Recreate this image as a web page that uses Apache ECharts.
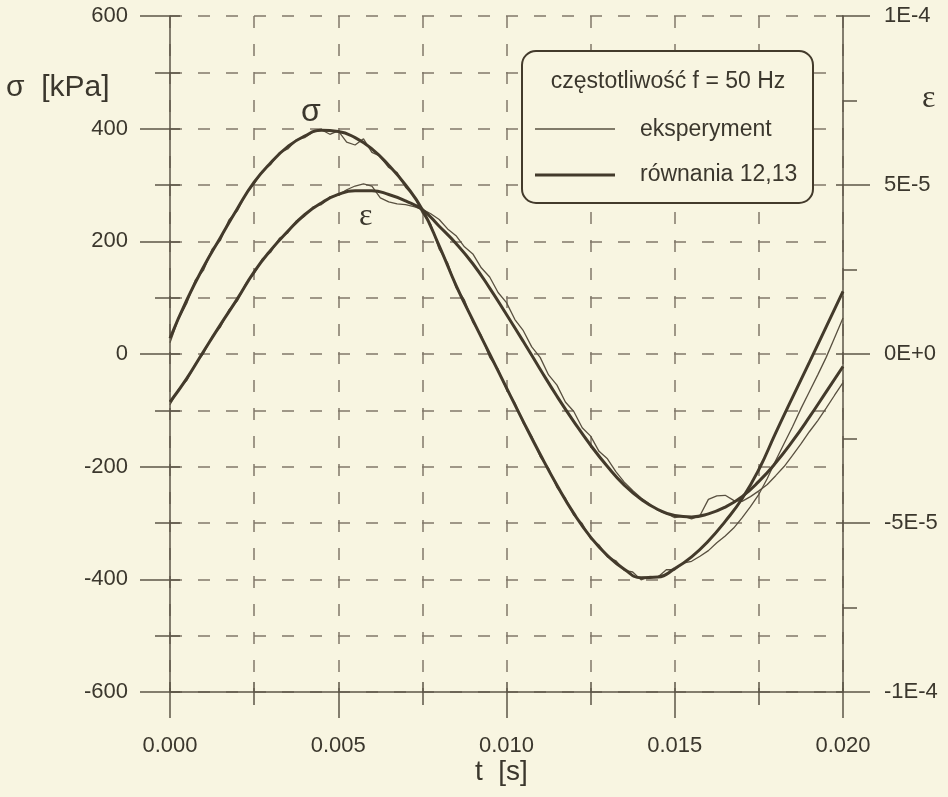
<!DOCTYPE html>
<html>
<head>
<meta charset="utf-8">
<script src="https://cdn.jsdelivr.net/npm/echarts/dist/echarts.min.js"></script>
<style>
  html, body { margin: 0; padding: 0; background: #f8f5e1; }
  #chart { width: 948px; height: 797px; }
</style>
</head>
<body>
<div id="chart"></div>
<script>
// ---------- data ----------
// model curves ("równania 12,13"), sampled every 0.0005 s
const tModel = [0, 0.0005, 0.001, 0.0015, 0.002, 0.0025, 0.003, 0.0035, 0.004, 0.0045,
  0.005, 0.0055, 0.006, 0.0065, 0.007, 0.0075, 0.008, 0.0085, 0.009, 0.0095,
  0.010, 0.0105, 0.011, 0.0115, 0.012, 0.0125, 0.013, 0.0135, 0.014, 0.0145,
  0.015, 0.0155, 0.016, 0.0165, 0.017, 0.0175, 0.018, 0.0185, 0.019, 0.0195, 0.020];
// stress sigma [kPa]
const sigmaModel = [28, 96, 155, 207, 258, 305, 340, 368, 387, 397,
  395, 384, 364, 335, 300, 256, 192, 122, 60, 0,
  -60, -120, -178, -233, -283, -325, -358, -382, -397, -396,
  -381, -360, -332, -297, -257, -205, -140, -77, -15, 48, 111];
// strain epsilon, in units of 1E-5
const epsModel = [-1.42, -0.72, 0.08, 0.87, 1.63, 2.43, 3.08, 3.63, 4.12, 4.47,
  4.72, 4.83, 4.83, 4.72, 4.53, 4.27, 3.78, 3.27, 2.67, 1.95,
  1.17, 0.37, -0.45, -1.25, -2.00, -2.70, -3.33, -3.88, -4.30, -4.60,
  -4.78, -4.82, -4.73, -4.53, -4.22, -3.77, -3.22, -2.58, -1.87, -1.12, -0.37];

// experiment ("eksperyment"), sampled every 0.00025 s
const tExp = [0, 0.00025, 0.0005, 0.00075, 0.001, 0.00125, 0.0015, 0.00175, 0.002, 0.00225,
  0.0025, 0.00275, 0.003, 0.00325, 0.0035, 0.00375, 0.004, 0.00425, 0.0045, 0.00475,
  0.005, 0.00525, 0.0055, 0.00575, 0.006, 0.00625, 0.0065, 0.00675, 0.007, 0.00725,
  0.0075, 0.00775, 0.008, 0.00825, 0.0085, 0.00875, 0.009, 0.00925, 0.0095, 0.00975,
  0.010, 0.01025, 0.0105, 0.01075, 0.011, 0.01125, 0.0115, 0.01175, 0.012, 0.01225,
  0.0125, 0.01275, 0.013, 0.01325, 0.0135, 0.01375, 0.014, 0.01425, 0.0145, 0.01475,
  0.015, 0.01525, 0.0155, 0.01575, 0.016, 0.01625, 0.0165, 0.01675, 0.017, 0.01725,
  0.0175, 0.01775, 0.018, 0.01825, 0.0185, 0.01875, 0.019, 0.01925, 0.0195, 0.01975, 0.020];
const sigmaExp = [20, 62, 90, 131, 149, 186, 202, 238, 254, 284,
  302, 325, 337, 357, 364, 380, 384, 394, 398, 390,
  396, 376, 371, 382, 358, 351, 331, 322, 296, 281,
  250, 230, 186, 162, 118, 96, 56, 33, -6, -27,
  -63, -87, -123, -146, -182, -203, -237, -256, -286, -301,
  -328, -339, -360, -367, -384, -387, -401, -395, -396, -383,
  -383, -371, -368, -359, -349, -335, -323, -309, -291, -271,
  -249, -221, -189, -159, -129, -97, -67, -37, -6, 29, 64];
const epsExp = [-1.50, -1.05, -0.78, -0.30, 0.02, 0.52, 0.80, 1.30, 1.57, 2.08,
  2.38, 2.82, 3.02, 3.42, 3.58, 3.93, 4.08, 4.35, 4.42, 4.65,
  4.70, 4.86, 4.97, 5.03, 4.97, 4.62, 4.50, 4.44, 4.42, 4.36,
  4.28, 4.15, 3.98, 3.70, 3.50, 3.17, 2.96, 2.55, 2.28, 1.82,
  1.52, 1.02, 0.69, 0.21, -0.10, -0.62, -0.92, -1.42, -1.70, -2.18,
  -2.43, -2.88, -3.10, -3.48, -3.79, -4.04, -4.26, -4.44, -4.63, -4.72,
  -4.84, -4.80, -4.88, -4.78, -4.30, -4.20, -4.18, -4.33, -4.36, -4.22,
  -4.05, -3.86, -3.60, -3.33, -3.00, -2.66, -2.30, -1.97, -1.60, -1.22, -0.85];
const EPS_UNIT = 1e-5;

// tick labels
const xTickLabels = ['0.000', '0.005', '0.010', '0.015', '0.020'];
const sigmaTickLabels = ['-600', '-400', '-200', '0', '200', '400', '600'];
const epsTickLabels = ['-1E-4', '-5E-5', '0E+0', '5E-5', '1E-4'];

// texts
const legendTitle = 'częstotliwość f = 50 Hz';
const legendExp = 'eksperyment';
const legendModel = 'równania 12,13';

// ---------- styles ----------
const BG = '#f8f5e1';
const INK = '#433a2b';
const THIN = '#595040';
const AX = '#5c5547';
const GRIDC = '#81786a';
const TXT = '#3b372d';
const FONT = '"Liberation Sans", Arial, sans-serif';
const SERIF = '"Liberation Serif", "DejaVu Serif", serif';

const dash = [12, 16];

const chart = echarts.init(document.getElementById('chart'), null, { renderer: 'canvas' });

const pair = (ts, vs, k) => ts.map((t, i) => [t, vs[i] * (k || 1)]);

const option = {
  backgroundColor: BG,
  animation: false,
  grid: { left: 170, right: 105, top: 16, bottom: 105, containLabel: false },
  xAxis: [
    {
      type: 'value', position: 'bottom', min: 0, max: 0.02, interval: 0.005,
      axisLine: { show: true, onZero: false, lineStyle: { color: AX, width: 1.5 } },
      axisTick: { show: true, length: 26, lineStyle: { color: AX, width: 1.5 } },
      minorTick: { show: true, splitNumber: 2, length: 13, lineStyle: { color: AX, width: 1.5 } },
      axisLabel: { margin: 43, fontSize: 22, color: TXT, fontFamily: FONT,
        formatter: (v, i) => xTickLabels[i] },
      splitLine: { show: true, lineStyle: { type: dash, color: GRIDC, width: 1.5 } },
      minorSplitLine: { show: true, lineStyle: { type: dash, color: GRIDC, width: 1.5 } }
    },
    {
      type: 'value', position: 'bottom', min: 0, max: 0.02, interval: 0.0025,
      axisLine: { show: false, onZero: false },
      axisTick: { show: true, inside: true, length: 10, lineStyle: { color: AX, width: 1.5 } },
      axisLabel: { show: false },
      splitLine: { show: false }
    }
  ],
  yAxis: [
    {
      type: 'value', position: 'left', min: -600, max: 600, interval: 200,
      axisLine: { show: true, onZero: false, lineStyle: { color: AX, width: 1.5 } },
      axisTick: { show: true, length: 30, lineStyle: { color: AX, width: 1.5 } },
      minorTick: { show: true, splitNumber: 2, length: 15, lineStyle: { color: AX, width: 1.5 } },
      axisLabel: { margin: 42, fontSize: 22, color: TXT, fontFamily: FONT,
        formatter: (v, i) => sigmaTickLabels[i] },
      splitLine: { show: true, lineStyle: { type: dash, color: GRIDC, width: 1.5 } },
      minorSplitLine: { show: true, lineStyle: { type: dash, color: GRIDC, width: 1.5 } }
    },
    {
      type: 'value', position: 'right', min: -1e-4, max: 1e-4, interval: 5e-5,
      axisLine: { show: true, onZero: false, lineStyle: { color: AX, width: 1.5 } },
      axisTick: { show: true, length: 27, lineStyle: { color: AX, width: 1.5 } },
      minorTick: { show: true, splitNumber: 2, length: 14, lineStyle: { color: AX, width: 1.5 } },
      axisLabel: { margin: 41, fontSize: 22, color: TXT, fontFamily: FONT,
        formatter: (v, i) => epsTickLabels[i] },
      splitLine: { show: false }
    },
    {
      type: 'value', position: 'left', min: -600, max: 600, interval: 100,
      axisLine: { show: false, onZero: false },
      axisTick: { show: true, inside: true, length: 10, lineStyle: { color: AX, width: 1.5 } },
      axisLabel: { show: false },
      splitLine: { show: false }
    },
    {
      type: 'value', position: 'right', min: -1e-4, max: 1e-4, interval: 5e-5,
      axisLine: { show: false, onZero: false },
      axisTick: { show: true, inside: true, length: 7, lineStyle: { color: AX, width: 1.5 } },
      axisLabel: { show: false },
      splitLine: { show: false }
    }
  ],
  series: [
    {
      name: 'sigma eksperyment', type: 'line', xAxisIndex: 0, yAxisIndex: 0,
      data: pair(tExp, sigmaExp), showSymbol: false, smooth: false,
      lineStyle: { color: THIN, width: 1.3 }, z: 3
    },
    {
      name: 'eps eksperyment', type: 'line', xAxisIndex: 0, yAxisIndex: 1,
      data: pair(tExp, epsExp, EPS_UNIT), showSymbol: false, smooth: false,
      lineStyle: { color: THIN, width: 1.3 }, z: 3
    },
    {
      name: 'sigma równania', type: 'line', xAxisIndex: 0, yAxisIndex: 0,
      data: pair(tModel, sigmaModel), showSymbol: false, smooth: true,
      lineStyle: { color: INK, width: 3 }, z: 4
    },
    {
      name: 'eps równania', type: 'line', xAxisIndex: 0, yAxisIndex: 1,
      data: pair(tModel, epsModel, EPS_UNIT), showSymbol: false, smooth: true,
      lineStyle: { color: INK, width: 3 }, z: 4
    }
  ],
  graphic: [
    // axis titles
    { type: 'text', left: 6, top: 73, z: 100,
      style: { text: 'σ  [kPa]', font: '30px ' + FONT, fill: TXT } },
    { type: 'text', left: 922, top: 83, z: 100,
      style: { text: 'ε', font: '32px ' + SERIF, fill: TXT } },
    { type: 'text', left: 475, top: 758, z: 100,
      style: { text: 't  [s]', font: '28px ' + FONT, fill: TXT } },
    // curve labels
    { type: 'text', left: 301, top: 96, z: 100,
      style: { text: 'σ', font: '32px ' + FONT, fill: TXT } },
    { type: 'text', left: 359, top: 201, z: 100,
      style: { text: 'ε', font: '32px ' + SERIF, fill: TXT } },
    // legend box
    { type: 'rect', z: 100,
      shape: { x: 522, y: 51, width: 291, height: 152, r: 14 },
      style: { fill: BG, stroke: INK, lineWidth: 2 } },
    { type: 'text', z: 101, x: 668, y: 82,
      style: { text: legendTitle, font: '23px ' + FONT, fill: TXT, align: 'center', verticalAlign: 'middle' } },
    { type: 'line', z: 101, shape: { x1: 535, y1: 129, x2: 615, y2: 129 },
      style: { stroke: THIN, lineWidth: 1.3 } },
    { type: 'text', z: 101, x: 640, y: 130,
      style: { text: legendExp, font: '23px ' + FONT, fill: TXT, align: 'left', verticalAlign: 'middle' } },
    { type: 'line', z: 101, shape: { x1: 535, y1: 175, x2: 615, y2: 175 },
      style: { stroke: INK, lineWidth: 3 } },
    { type: 'text', z: 101, x: 640, y: 175,
      style: { text: legendModel, font: '23px ' + FONT, fill: TXT, align: 'left', verticalAlign: 'middle' } }
  ]
};

chart.setOption(option);
</script>
</body>
</html>
